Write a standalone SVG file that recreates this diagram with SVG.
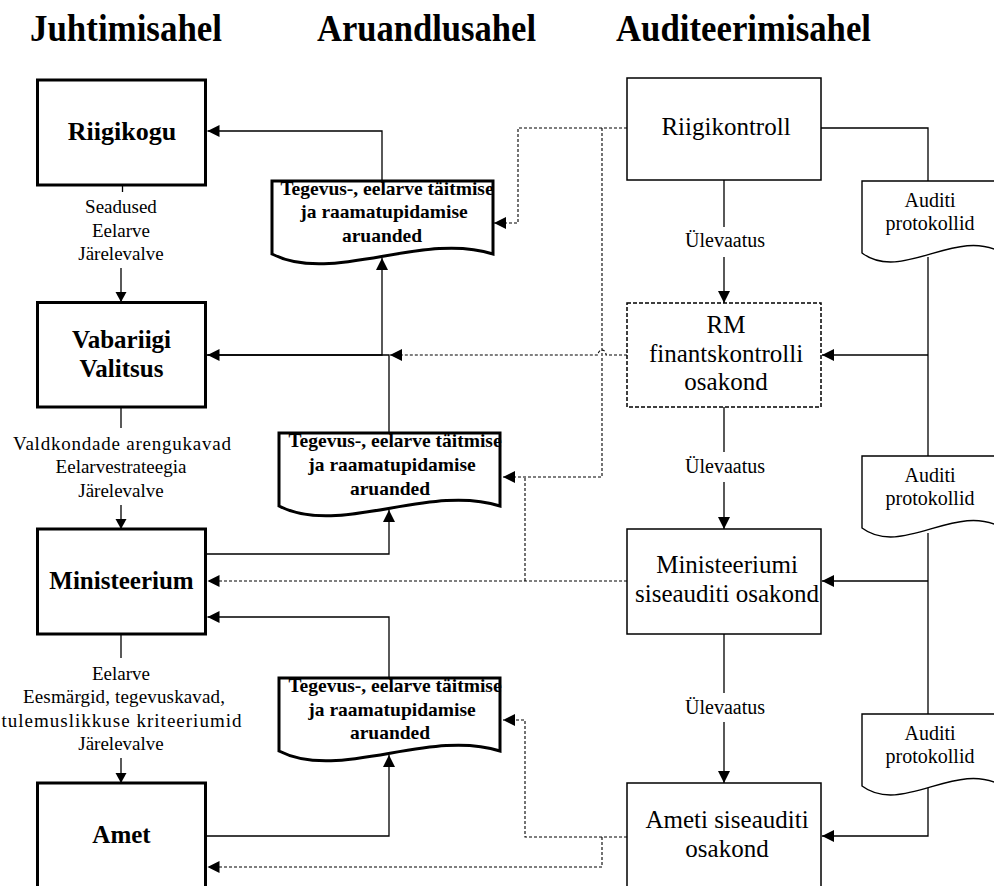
<svg xmlns="http://www.w3.org/2000/svg" width="994" height="886" viewBox="0 0 994 886">
<defs>
<style>
.title{font-family:"Liberation Serif",serif;font-weight:bold;font-size:37px}
.bx{fill:#fff;stroke:#000;stroke-width:3}
.bxr{fill:#fff;stroke:#000;stroke-width:1.5}
.bxd{fill:#fff;stroke:#000;stroke-width:1.5;stroke-dasharray:4 2}
.doc{fill:#fff;stroke:#000;stroke-width:3}
.adoc{fill:#fff;stroke:#000;stroke-width:1.4}
.tb{font-family:"Liberation Serif",serif;font-weight:bold;font-size:25px;text-anchor:middle}
.lbl{font-family:"Liberation Serif",serif;font-size:19px;text-anchor:middle}
.rt{font-family:"Liberation Serif",serif;font-size:25px;text-anchor:middle}
.dt{font-family:"Liberation Serif",serif;font-weight:bold;font-size:19.5px;text-anchor:middle}
.at{font-family:"Liberation Serif",serif;font-size:20px;text-anchor:middle}
.ln{fill:none;stroke:#000;stroke-width:1.3}
.dl{fill:none;stroke:#000;stroke-width:1.1;stroke-dasharray:3 2}
</style>
<marker id="ah" markerUnits="userSpaceOnUse" markerWidth="13" markerHeight="13" refX="12" refY="6" orient="auto"><path d="M0,0 L12,6 L0,12 Z" fill="#000"/></marker>
<marker id="ahs" markerUnits="userSpaceOnUse" markerWidth="12" markerHeight="12" refX="10" refY="5.5" orient="auto"><path d="M0,0 L10,5.5 L0,11 Z" fill="#000"/></marker>
<path id="rep" d="M0,0 H221 V73 C150,50 60,104 0,73 Z"/>
<path id="aud" d="M0,72 V0 H140 V72 C95,45 40,102 0,72 Z"/>
</defs>
<rect width="994" height="886" fill="#fff"/>

<g id="titles">
<text class="title" x="30" y="41" textLength="192" lengthAdjust="spacingAndGlyphs">Juhtimisahel</text>
<text class="title" x="317" y="41" textLength="219" lengthAdjust="spacingAndGlyphs">Aruandlusahel</text>
<text class="title" x="616" y="41" textLength="255" lengthAdjust="spacingAndGlyphs">Auditeerimisahel</text>
</g>

<g id="riigikogu"><rect class="bx" x="37.5" y="80" width="168" height="105"/><text class="tb" x="122" y="140" style="font-size:26px">Riigikogu</text></g>
<g id="valitsus"><rect class="bx" x="37.5" y="302.5" width="168" height="104.5"/><text class="tb" x="121.5" y="348">Vabariigi</text><text class="tb" x="121.5" y="377">Valitsus</text></g>
<g id="ministeerium"><rect class="bx" x="37.5" y="529" width="168" height="105"/><text class="tb" x="121.5" y="589">Ministeerium</text></g>
<g id="amet"><rect class="bx" x="37.5" y="783" width="168" height="120"/><text class="tb" x="121.5" y="843">Amet</text></g>

<g id="labels-left">
<text class="lbl" x="121" y="213">Seadused</text>
<text class="lbl" x="121" y="237">Eelarve</text>
<text class="lbl" x="121" y="260">Järelevalve</text>
<text class="lbl" x="122" y="450" textLength="218" lengthAdjust="spacing">Valdkondade  arengukavad</text>
<text class="lbl" x="121" y="473">Eelarvestrateegia</text>
<text class="lbl" x="121" y="497">Järelevalve</text>
<text class="lbl" x="121" y="680">Eelarve</text>
<text class="lbl" x="124" y="703" textLength="202" lengthAdjust="spacing">Eesmärgid,  tegevuskavad,</text>
<text class="lbl" x="121.5" y="727" textLength="240" lengthAdjust="spacing">tulemuslikkuse  kriteeriumid</text>
<text class="lbl" x="121" y="750">Järelevalve</text>
</g>

<g id="aruanded-1"><use href="#rep" class="doc" x="272" y="181"/><text class="dt" x="387" y="195">Tegevus-, eelarve täitmise</text><text class="dt" x="384" y="218">ja raamatupidamise</text><text class="dt" x="382" y="242">aruanded</text></g>
<g id="aruanded-2"><use href="#rep" class="doc" x="279" y="433"/><text class="dt" x="395" y="447">Tegevus-, eelarve täitmise</text><text class="dt" x="392" y="471">ja raamatupidamise</text><text class="dt" x="390" y="495">aruanded</text></g>
<g id="aruanded-3"><use href="#rep" class="doc" x="279" y="678"/><text class="dt" x="395" y="692">Tegevus-, eelarve täitmise</text><text class="dt" x="392" y="716">ja raamatupidamise</text><text class="dt" x="390" y="739">aruanded</text></g>

<g id="riigikontroll"><rect class="bxr" x="627" y="78" width="194" height="102"/><text class="rt" x="726" y="135">Riigikontroll</text></g>
<g id="rm"><rect class="bxd" x="627" y="303" width="194" height="104"/><text class="rt" x="726" y="333">RM</text><text class="rt" x="726" y="362">finantskontrolli</text><text class="rt" x="726" y="390">osakond</text></g>
<g id="min-siseaudit"><rect class="bxr" x="627" y="529" width="194" height="105"/><text class="rt" x="727" y="573">Ministeeriumi</text><text class="rt" x="727" y="602">siseauditi osakond</text></g>
<g id="ameti-siseaudit"><rect class="bxr" x="627" y="783" width="194" height="120"/><text class="rt" x="727" y="828">Ameti  siseauditi</text><text class="rt" x="727" y="857">osakond</text></g>

<g id="auditi-1"><use href="#aud" class="adoc" x="862" y="181"/><text class="at" x="930" y="207">Auditi</text><text class="at" x="930" y="230">protokollid</text></g>
<g id="auditi-2"><use href="#aud" class="adoc" x="862" y="456"/><text class="at" x="930" y="482">Auditi</text><text class="at" x="930" y="505">protokollid</text></g>
<g id="auditi-3"><use href="#aud" class="adoc" x="862" y="714"/><text class="at" x="930" y="740">Auditi</text><text class="at" x="930" y="763">protokollid</text></g>

<g id="ulevaatus-labels">
<text class="at" x="725" y="247">Ülevaatus</text>
<text class="at" x="725" y="473">Ülevaatus</text>
<text class="at" x="725" y="714">Ülevaatus</text>
</g>

<g id="connectors">
<path class="ln" d="M122.5,185 V192"/>
<path class="ln" d="M121,268 V302" marker-end="url(#ahs)"/>
<path class="ln" d="M121,407 V428"/>
<path class="ln" d="M121,505 V529" marker-end="url(#ahs)"/>
<path class="ln" d="M121,634 V658"/>
<path class="ln" d="M121,758 V783" marker-end="url(#ahs)"/>

<path class="ln" d="M382,181 V131 H207.5" marker-end="url(#ah)"/>
<path class="ln" d="M207,355 H382 V258" marker-end="url(#ah)"/>
<path class="ln" d="M389,433 V355 H207.5" marker-end="url(#ah)"/>
<path class="ln" d="M207,554 H389 V510" marker-end="url(#ah)"/>
<path class="ln" d="M389,678 V617 H207.5" marker-end="url(#ah)"/>
<path class="ln" d="M207,836 H389 V755" marker-end="url(#ah)"/>

<path class="ln" d="M724,180 V227 M724,257 V303" marker-end="url(#ah)"/>
<path class="ln" d="M724,407 V452 M724,482 V529" marker-end="url(#ah)"/>
<path class="ln" d="M724,634 V693 M724,722 V783" marker-end="url(#ah)"/>

<path class="ln" d="M821,128 H928 V181"/>
<path class="ln" d="M928,257 V456"/>
<path class="ln" d="M928,355 H822" marker-end="url(#ah)"/>
<path class="ln" d="M928,533 V714"/>
<path class="ln" d="M928,581 H822" marker-end="url(#ah)"/>
<path class="ln" d="M928,788 V836 H822" marker-end="url(#ah)"/>

<path class="dl" d="M627,128 H518 V223 H494" marker-end="url(#ah)"/>
<path class="dl" d="M602,128 V477 H503" marker-end="url(#ah)"/>
<path class="dl" d="M627,355 H606 A4,5 0 0 0 598,355 H390" marker-end="url(#ah)"/>
<path class="dl" d="M627,581 H207.5" marker-end="url(#ah)"/>
<path class="dl" d="M525,581 V477"/>
<path class="dl" d="M627,837 H525 V720 H503" marker-end="url(#ah)"/>
<path class="dl" d="M602,837 V867 H207.5" marker-end="url(#ah)"/>
</g>
</svg>
